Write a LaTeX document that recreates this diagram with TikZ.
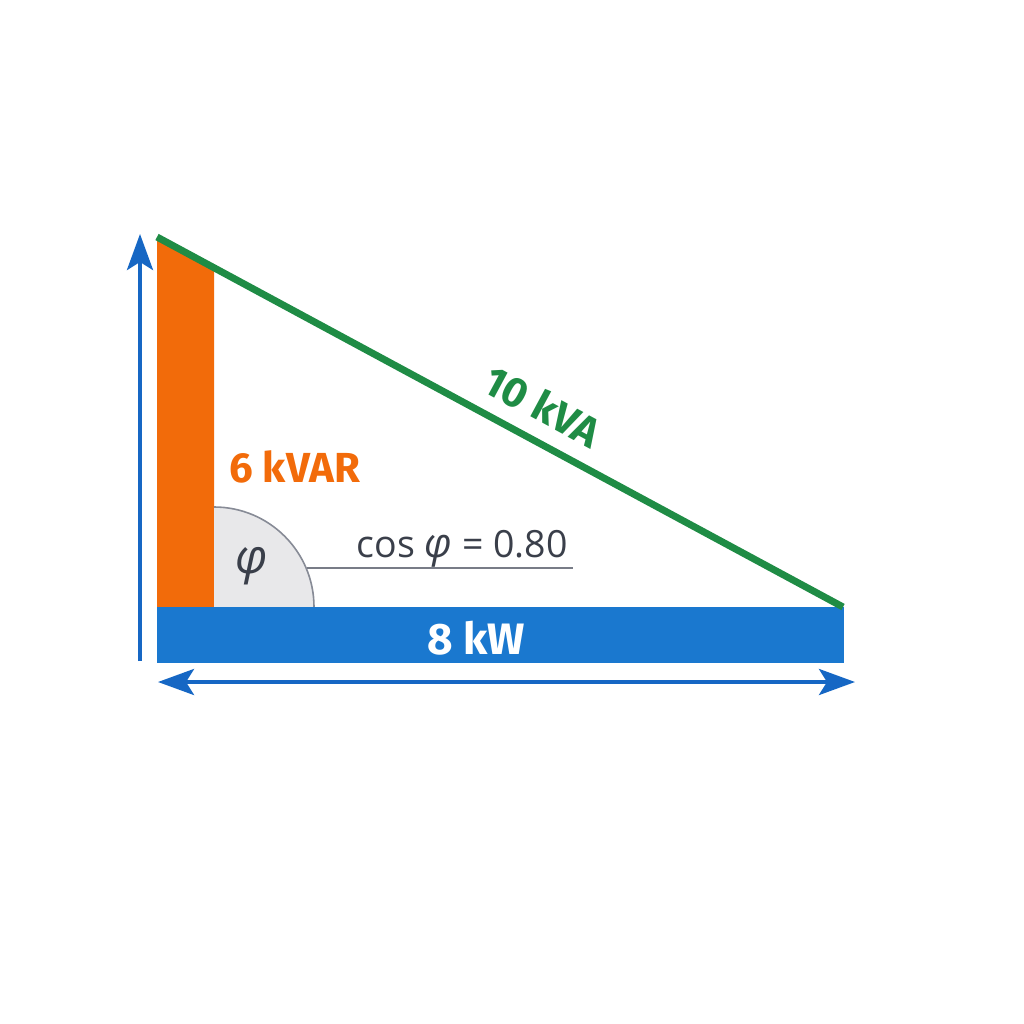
\documentclass[tikz,border=0pt]{standalone}
\usepackage{fontspec}
\setmainfont{Open Sans}
\newfontfamily\labelfont{Fira Sans}
\usetikzlibrary{arrows.meta}
\definecolor{qorange}{HTML}{F26B0A}
\definecolor{sgreen}{HTML}{1F8C45}
\definecolor{pblue}{HTML}{1A78CF}
\definecolor{ablue}{HTML}{1667C4}
\definecolor{wedgefill}{HTML}{E8E8EA}
\definecolor{wedgeline}{HTML}{878B96}
\definecolor{darktext}{HTML}{3A3F4A}
\tikzset{
  axisarrow/.style={draw=ablue, line width=4pt, -{Stealth[length=36pt,width=26pt,inset=8pt]}},
  axisdouble/.style={draw=ablue, line width=4pt, {Stealth[length=36pt,width=26pt,inset=8pt]}-{Stealth[length=36pt,width=26pt,inset=8pt]}},
  lbl/.style={font=\labelfont\fontsize{42}{48}\selectfont\bfseries, inner sep=0pt},
}
\begin{document}
\begin{tikzpicture}[x=1pt,y=-1pt]
\useasboundingbox (0,0) rectangle (1024,1024);
% coordinates
\coordinate (A) at (157,237);
\coordinate (B) at (843,607);
% orange reactive bar
\fill[qorange] (157,237) -- (214,268) -- (214,607) -- (157,607) -- cycle;
% angle wedge
\fill[wedgefill] (214,607) -- (314,607) arc[start angle=0,end angle=-90,radius=100] -- cycle;
\draw[draw=wedgeline, line width=1.6pt] (314,607) arc[start angle=0, end angle=-90, radius=100];
% blue active bar
\fill[pblue] (157,607) rectangle (844,663);
\node[lbl, text=white, font=\labelfont\fontsize{44}{48}\selectfont\bfseries] (kw) at (476,638) {8 kW};
% hypotenuse
\draw[sgreen, line width=7pt] (A) -- (B);
\node[lbl, text=sgreen, rotate=-28.3] (kva) at (543,406) {10 kVA};
\node[lbl, text=qorange, anchor=west] (kvar) at (229,467) {6 kVAR};
% phi label
\node[text=darktext, inner sep=0pt] (phi) at (252,566) {\fontsize{48}{50}\selectfont\itshape φ};
% cos phi label and underline
\node[text=darktext, inner sep=0pt, anchor=base] (cos) at (462,557) {\fontsize{37.5}{40}\selectfont cos {\fontsize{41}{40}\selectfont\itshape φ} = 0.80};
\coordinate (u1) at (307,568);
\coordinate (u2) at (573,568);
\draw[wedgeline!80!darktext, line width=1.8pt] (u1) -- (u2);
% axes arrows
\coordinate (v0) at (140,661);
\coordinate (v1) at (140,234);
\draw[axisarrow] (v0) -- (v1);
\coordinate (h0) at (158,682);
\coordinate (h1) at (855,682);
\draw[axisdouble] (h0) -- (h1);
\end{tikzpicture}
\end{document}
